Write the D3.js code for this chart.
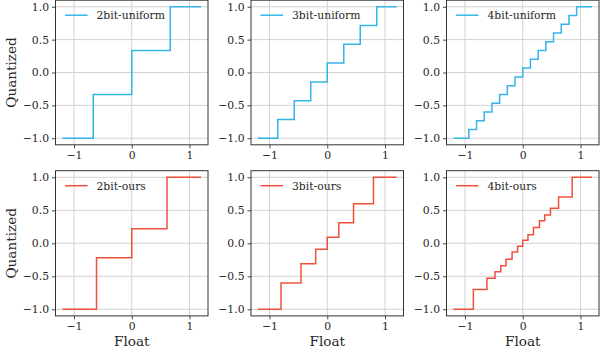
<!DOCTYPE html>
<html>
<head>
<meta charset="utf-8">
<script src="https://cdn.jsdelivr.net/npm/d3@7"></script>
<style>
  html, body { margin: 0; padding: 0; background: #fff; }
  svg { display: block; }
  text { font-family: "DejaVu Serif", serif; fill: #262626; }
</style>
</head>
<body>
<svg id="chart" width="600" height="356"></svg>
<script>
// ---- data ----
const xTicks = [-1, 0, 1];
const yTicks = [-1.0, -0.5, 0.0, 0.5, 1.0];
const xStart = -1.2;
const xEnd = 1.2;

const uniform2Levels = [-1, -0.333, 0.333, 1];
const uniform2Thresholds = [-0.667, 0, 0.667];

const uniform3Levels = [-1, -0.714, -0.429, -0.143, 0.143, 0.429, 0.714, 1];
const uniform3Thresholds = [-0.857, -0.571, -0.286, 0, 0.286, 0.571, 0.857];

const uniform4Levels = [-1, -0.867, -0.733, -0.6, -0.467, -0.333, -0.2, -0.067,
                        0.067, 0.2, 0.333, 0.467, 0.6, 0.733, 0.867, 1];
const uniform4Thresholds = [-0.933, -0.8, -0.667, -0.533, -0.4, -0.267, -0.133, 0,
                            0.133, 0.267, 0.4, 0.533, 0.667, 0.8, 0.933];

const ours2Levels = [-1, -0.22, 0.22, 1];
const ours2Thresholds = [-0.61, 0, 0.61];

const ours3Levels = [-1, -0.6, -0.31, -0.09, 0.09, 0.31, 0.6, 1];
const ours3Thresholds = [-0.8, -0.455, -0.2, 0, 0.2, 0.455, 0.8];

const ours4Levels = [-1, -0.70, -0.53, -0.43, -0.34, -0.24, -0.13, -0.045,
                     0.045, 0.13, 0.24, 0.34, 0.43, 0.53, 0.70, 1];
const ours4Thresholds = [-0.855, -0.62, -0.48, -0.38, -0.29, -0.185, -0.09, 0,
                         0.09, 0.185, 0.29, 0.38, 0.48, 0.62, 0.855];

const panelNames = ["2bit-uniform", "3bit-uniform", "4bit-uniform", "2bit-ours", "3bit-ours", "4bit-ours"];
const panelLevels = [uniform2Levels, uniform3Levels, uniform4Levels, ours2Levels, ours3Levels, ours4Levels];
const panelThresholds = [uniform2Thresholds, uniform3Thresholds, uniform4Thresholds, ours2Thresholds, ours3Thresholds, ours4Thresholds];
const panelColors = ["#33b5e7", "#33b5e7", "#33b5e7", "#f0503a", "#f0503a", "#f0503a"];

// ---- layout ----
const colX = [[55.5, 208], [251, 403.5], [446.5, 599]];
const rowY = [[0.2, 144.8], [170.7, 315.9]];

const svg = d3.select("#chart");
const gridColor = "#d3d3d3";
const spineColor = "#333";

panelNames.forEach((name, i) => {
  const r = Math.floor(i / 3), c = i % 3;
  const [x0, x1] = colX[c];
  const [y0, y1] = rowY[r];
  const x = d3.scaleLinear().domain([-1.32, 1.32]).range([x0, x1]);
  const y = d3.scaleLinear().domain([-1.1, 1.1]).range([y1, y0]);
  const g = svg.append("g");

  // grid
  g.selectAll(".gx").data(xTicks).enter().append("line")
    .attr("x1", d => x(d)).attr("x2", d => x(d))
    .attr("y1", y0).attr("y2", y1)
    .attr("stroke", gridColor).attr("stroke-width", 1);
  g.selectAll(".gy").data(yTicks).enter().append("line")
    .attr("y1", d => y(d)).attr("y2", d => y(d))
    .attr("x1", x0).attr("x2", x1)
    .attr("stroke", gridColor).attr("stroke-width", 1);

  // step line
  const lev = panelLevels[i], thr = panelThresholds[i];
  const pts = [[xStart, lev[0]]];
  thr.forEach((t, k) => pts.push([t, lev[k + 1]]));
  pts.push([xEnd, lev[lev.length - 1]]);
  const line = d3.line().x(d => x(d[0])).y(d => y(d[1])).curve(d3.curveStepAfter);
  g.append("path").datum(pts)
    .attr("d", line)
    .attr("fill", "none")
    .attr("stroke", panelColors[i])
    .attr("stroke-width", 1.5);

  // axes
  const xAxis = d3.axisBottom(x).tickValues(xTicks)
    .tickFormat(d => d3.format("d")(d).replace("-", "\u2212"))
    .tickSize(3.5).tickPadding(3);
  const yAxis = d3.axisLeft(y).tickValues(yTicks)
    .tickFormat(d => d3.format(".1f")(d).replace("-", "\u2212"))
    .tickSize(3.5).tickPadding(3);
  const gx = g.append("g").attr("transform", `translate(0,${y1})`).call(xAxis);
  const gy = g.append("g").attr("transform", `translate(${x0},0)`).call(yAxis);
  [gx, gy].forEach(a => {
    a.select(".domain").remove();
    a.selectAll(".tick line").attr("stroke", spineColor).attr("stroke-width", 0.9);
    a.selectAll(".tick text").attr("font-size", "10.8px")
      .attr("font-family", "DejaVu Serif").attr("fill", "#262626");
  });

  // spines
  g.append("rect").attr("x", x0).attr("y", y0)
    .attr("width", x1 - x0).attr("height", y1 - y0)
    .attr("fill", "none").attr("stroke", spineColor).attr("stroke-width", 1);

  // legend
  const ly = y0 + 15;
  g.append("line").attr("x1", x0 + 9.5).attr("x2", x0 + 32)
    .attr("y1", ly).attr("y2", ly)
    .attr("stroke", panelColors[i]).attr("stroke-width", 1.5);
  g.append("text").attr("x", x0 + 41).attr("y", ly + 3.8)
    .attr("font-size", "10.8px").text(name);

  if (c === 0) {
    svg.append("text")
      .attr("transform", `translate(16,${(y0 + y1) / 2}) rotate(-90)`)
      .attr("text-anchor", "middle").attr("font-size", "13.6px")
      .text("Quantized");
  }
  if (r === 1) {
    svg.append("text")
      .attr("x", (x0 + x1) / 2).attr("y", 346)
      .attr("text-anchor", "middle").attr("font-size", "13.6px")
      .text("Float");
  }
});
</script>
</body>
</html>
